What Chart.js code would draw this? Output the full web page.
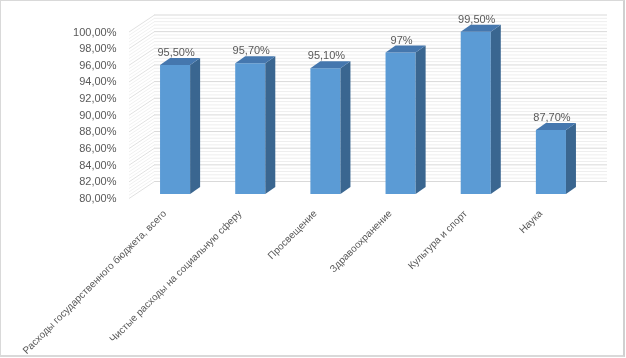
<!DOCTYPE html>
<html>
<head>
<meta charset="utf-8">
<script src="https://cdn.jsdelivr.net/npm/chart.js@4/dist/chart.umd.min.js"></script>
<style>
  html, body { margin: 0; padding: 0; background: #fff; }
  #wrap { position: relative; width: 622px; height: 354px; border: 1px solid #d9d9d9; border-right: 2px solid #d0d0d0; border-bottom: 2px solid #d9d9d9; }
  canvas { position: absolute; left: -1px; top: -1px; }
</style>
</head>
<body>
<div id="wrap"><canvas id="chart" width="626" height="358"></canvas></div>
<script>
const categories = [
  'Расходы государственного бюджета, всего',
  'Чистые расходы на социальную сферу',
  'Просвещение',
  'Здравоохранение',
  'Культура и спорт',
  'Наука'
];
const values = [95.5, 95.7, 95.1, 97, 99.5, 87.7];
const yMin = 80;
const yMax = 100;
const yStep = 2;

const FONT = '"Liberation Sans", Arial, sans-serif';
const TEXT = '#595959';
const DX = 10, DY = -7;          // bar depth
const WX = 25, WY = -12.5;       // back wall offset

function fmtLabel(v) {
  return Number.isInteger(v) ? v + '%' : v.toFixed(2).replace('.', ',') + '%';
}

const wall3d = {
  id: 'wall3d',
  beforeDatasetsDraw(chart) {
    const { ctx, chartArea, scales } = chart;
    const y = scales.y;
    const left = chartArea.left - 8.5;
    ctx.save();
    ctx.lineWidth = 1;
    for (let v = yMin; v <= yMax + 0.001; v += 0.4) {
      const major = Math.abs(v / yStep - Math.round(v / yStep)) < 0.01;
      const py = y.getPixelForValue(v);
      ctx.strokeStyle = major ? '#d9d9d9' : '#eeeeee';
      ctx.beginPath();
      ctx.moveTo(left + WX, py + WY);
      ctx.lineTo(chartArea.right + 18.5, py + WY);
      ctx.stroke();
      ctx.strokeStyle = major ? '#e0e0e0' : '#f0f0f0';
      ctx.beginPath();
      ctx.moveTo(left, py + 4.5);
      ctx.lineTo(left + WX + 0.5, py + WY);
      ctx.stroke();
    }
    ctx.restore();
  },
  afterDatasetsDraw(chart) {
    const { ctx, chartArea } = chart;
    const meta = chart.getDatasetMeta(0);
    ctx.save();
    meta.data.forEach((bar, i) => {
      const w = bar.width;
      const x0 = bar.x - w / 2, x1 = bar.x + w / 2;
      const top = bar.y, bottom = Math.min(bar.base, chartArea.bottom);
      // side face
      ctx.fillStyle = '#3a6690';
      ctx.beginPath();
      ctx.moveTo(x1, top);
      ctx.lineTo(x1 + DX, top + DY);
      ctx.lineTo(x1 + DX, bottom + DY);
      ctx.lineTo(x1, bottom);
      ctx.closePath();
      ctx.fill();
      // top face
      ctx.fillStyle = '#4577ae';
      ctx.beginPath();
      ctx.moveTo(x0, top);
      ctx.lineTo(x0 + DX, top + DY);
      ctx.lineTo(x1 + DX, top + DY);
      ctx.lineTo(x1, top);
      ctx.closePath();
      ctx.fill();
      // value label
      ctx.fillStyle = TEXT;
      ctx.font = '11px ' + FONT;
      ctx.textAlign = 'center';
      ctx.textBaseline = 'middle';
      ctx.fillText(fmtLabel(values[i]), bar.x + 1, top - 12);
    });
    ctx.restore();
  }
};

new Chart(document.getElementById('chart'), {
  type: 'bar',
  data: {
    labels: categories,
    datasets: [{
      data: values,
      backgroundColor: '#5b9bd5',
      borderWidth: 0,
      barPercentage: 0.4,
      categoryPercentage: 1
    }]
  },
  options: {
    responsive: false,
    animation: false,
    layout: { padding: { left: 0, right: 37.5, top: 27.5, bottom: 0 } },
    plugins: { legend: { display: false }, tooltip: { enabled: false } },
    scales: {
      y: {
        min: yMin,
        max: yMax,
        grid: { display: false },
        border: { display: false },
        afterFit: s => { s.width = 137.5; },
        ticks: {
          stepSize: yStep,
          padding: 13,
          labelOffset: 5,
          color: TEXT,
          font: { family: FONT, size: 11 },
          callback: v => v.toFixed(2).replace('.', ',') + '%'
        }
      },
      x: {
        grid: { display: false },
        border: { display: false },
        afterFit: s => { s.height = 164; },
        ticks: {
          minRotation: 45,
          maxRotation: 45,
          padding: 6,
          labelOffset: -10,
          color: TEXT,
          font: { family: FONT, size: 10 }
        }
      }
    }
  },
  plugins: [wall3d]
});
</script>
</body>
</html>
